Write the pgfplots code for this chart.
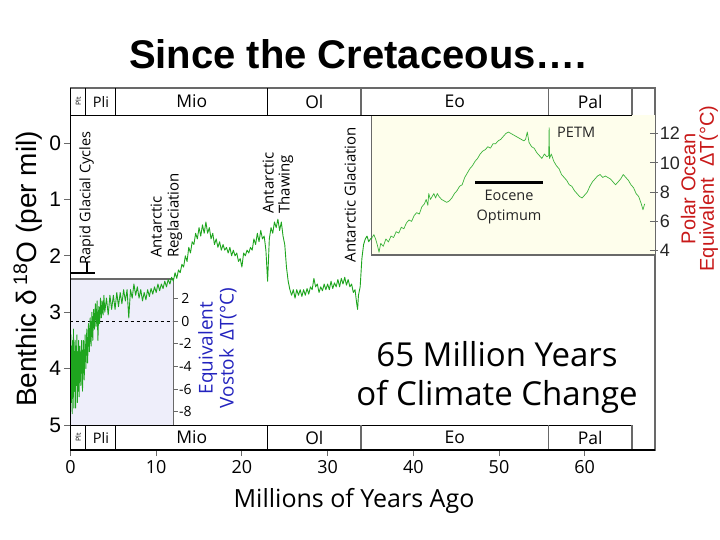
\documentclass[border=0pt]{standalone}
\usepackage{fontspec}
\setmainfont{Open Sans}
\newfontfamily\arial{Liberation Sans}
\usepackage{pgfplots}
\pgfplotsset{compat=1.18}
\usepackage{pgfplotstable}

\definecolor{mygreen}{RGB}{30,165,30}
\definecolor{mygreenL}{RGB}{60,180,60}
\definecolor{lav}{RGB}{238,238,250}
\definecolor{cream}{RGB}{254,254,236}
\definecolor{redlab}{RGB}{200,25,25}
\definecolor{bluelab}{RGB}{35,35,190}
\definecolor{framec}{RGB}{105,105,105}

% Benthic d18O (per mil), 0-35 Myr
\pgfplotstableread{
x d
0.0 4.2
0.05 3.4
0.1 4.6
0.15 3.6
0.2 4.8
0.25 3.5
0.3 4.5
0.35 3.3
0.4 4.7
0.45 3.7
0.5 4.4
0.55 3.5
0.6 4.7
0.65 3.6
0.7 4.3
0.75 3.4
0.8 4.6
0.85 3.7
0.9 4.4
0.95 3.5
1.0 4.5
1.1 3.6
1.2 4.3
1.3 3.5
1.4 4.4
1.5 3.5
1.6 4.2
1.7 3.4
1.8 4.0
1.9 3.3
2.0 3.9
2.1 3.2
2.2 3.7
2.3 3.1
2.4 3.6
2.5 3.0
2.6 3.5
2.7 2.95
2.8 3.3
2.9 2.85
3.0 3.25
3.1 2.8
3.2 3.5
3.3 2.9
3.4 3.2
3.5 2.75
3.6 3.1
3.7 2.8
3.8 3.05
3.9 2.7
4.0 3.0
4.2 2.75
4.4 3.05
4.6 2.7
4.8 2.95
5.0 2.7
5.2 2.95
5.4 2.65
5.6 2.9
5.8 2.65
6.0 2.85
6.2 2.6
6.4 2.8
6.6 2.6
6.8 3.1
7.0 2.6
7.2 2.75
7.4 2.5
7.6 2.7
7.8 2.55
8.0 2.75
8.2 2.6
8.4 2.8
8.6 2.65
8.8 2.78
9.0 2.6
9.2 2.72
9.4 2.58
9.6 2.68
9.8 2.55
10.0 2.65
10.2 2.5
10.4 2.62
10.6 2.5
10.8 2.58
11.0 2.45
11.2 2.55
11.4 2.42
11.6 2.5
11.8 2.38
12.0 2.45
12.2 2.3
12.4 2.4
12.6 2.25
12.8 2.3
13.0 2.15
13.2 2.2
13.4 2.0
13.6 2.1
13.8 1.85
14.0 1.95
14.2 1.75
14.4 1.8
14.6 1.6
14.8 1.7
15.0 1.5
15.2 1.65
15.4 1.45
15.6 1.6
15.8 1.4
16.0 1.6
16.2 1.5
16.4 1.7
16.6 1.6
16.8 1.8
17.0 1.7
17.2 1.85
17.4 1.75
17.6 1.9
17.8 1.8
18.0 1.9
18.2 1.85
18.4 1.95
18.6 1.85
18.8 2.0
19.0 1.9
19.2 2.0
19.4 1.95
19.6 2.1
19.8 2.05
20.0 2.2
20.2 1.95
20.4 2.0
20.6 1.9
20.8 1.95
21.0 1.85
21.2 1.9
21.4 1.7
21.6 1.8
21.8 1.6
22.0 1.75
22.2 1.55
22.4 1.7
22.6 1.65
22.8 1.9
23.0 2.45
23.2 1.7
23.4 1.5
23.6 1.6
23.8 1.4
24.0 1.5
24.2 1.35
24.4 1.55
24.6 1.4
24.8 1.65
25.0 1.8
25.2 2.2
25.4 2.45
25.6 2.6
25.8 2.7
26.0 2.6
26.2 2.75
26.4 2.6
26.6 2.7
26.8 2.6
27.0 2.72
27.2 2.6
27.4 2.7
27.6 2.58
27.8 2.68
28.0 2.55
28.2 2.6
28.4 2.4
28.6 2.55
28.8 2.5
29.0 2.65
29.2 2.55
29.4 2.62
29.6 2.5
29.8 2.6
30.0 2.5
30.2 2.6
30.4 2.45
30.6 2.58
30.8 2.48
31.0 2.55
31.2 2.42
31.4 2.55
31.6 2.4
31.8 2.5
32.0 2.38
32.2 2.52
32.4 2.42
32.6 2.55
32.8 2.5
33.0 2.65
33.2 2.6
33.4 2.85
33.5 2.95
33.6 2.7
33.8 2.55
34.0 2.05
34.2 1.8
34.4 1.7
34.6 1.65
34.8 1.75
35.0 1.7
35.2 1.68
}\maindata

% Polar ocean equivalent Delta T (deg C), 35-67 Myr
\pgfplotstableread{
x T
35.2 4.9
35.4 5.1
35.6 4.8
35.8 4.4
36.0 3.9
36.2 4.5
36.5 4.3
36.8 4.8
37.1 4.6
37.4 5.0
37.7 4.9
38.0 5.3
38.3 5.2
38.6 5.6
38.9 5.5
39.2 5.9
39.5 6.1
39.8 6.0
40.1 6.4
40.4 6.6
40.7 6.5
41.0 7.0
41.3 7.2
41.5 7.5
41.7 7.1
41.8 7.9
42.0 7.5
42.2 7.7
42.4 7.9
42.6 7.6
42.8 7.9
43.0 7.7
43.3 7.5
43.6 7.4
43.9 7.3
44.2 7.4
44.5 7.6
44.8 7.9
45.1 8.1
45.4 8.4
45.7 8.5
46.0 9.0
46.3 9.3
46.6 9.6
46.9 9.8
47.2 10.1
47.5 10.3
47.8 10.6
48.1 10.8
48.4 10.9
48.7 11.1
49.0 11.0
49.3 11.3
49.6 11.3
49.9 11.5
50.2 11.6
50.5 11.8
50.8 12.0
51.1 12.1
51.4 12.0
51.7 11.9
52.0 11.8
52.3 11.7
52.6 11.6
52.9 11.5
53.1 11.6
53.3 12.1
53.5 11.4
53.8 11.1
54.1 11.0
54.4 10.7
54.7 10.5
55.0 10.3
55.3 10.6
55.6 10.4
55.8 10.5
55.85 12.4
55.9 10.3
56.1 10.6
56.4 10.1
56.7 9.8
57.0 9.6
57.3 9.2
57.6 9.0
57.9 8.8
58.2 8.5
58.5 8.4
58.8 8.1
59.1 7.9
59.4 7.7
59.7 7.6
60.0 7.8
60.3 8.0
60.6 8.4
60.9 8.7
61.2 8.9
61.5 9.1
61.8 9.2
62.1 9.0
62.4 9.1
62.7 9.0
63.0 8.9
63.3 8.7
63.6 8.5
63.9 8.7
64.2 8.9
64.5 9.2
64.8 9.0
65.1 8.8
65.4 8.5
65.7 8.3
66.0 7.9
66.3 7.7
66.6 7.2
66.8 6.8
67.0 7.2
}\polardata

\begin{document}
\begin{tikzpicture}
\useasboundingbox (-70.5pt,-90pt) rectangle (649.5pt,450pt);
\begin{axis}[
  at={(0,0)}, anchor=south west,
  x=8.57pt, y=56.4pt, y dir=reverse,
  xmin=0, xmax=68.2, ymin=-0.975, ymax=5.443,
  clip=false,
  axis line style={draw=framec, line width=1.2pt},
  xtick={0,10,...,60}, ytick={0,1,...,5},
  tick pos=left,
  tick align=outside,
  major tick length=6pt,
  tick style={draw=framec, line width=1pt},
  /pgf/number format/assume math mode=true,
  xticklabel style={font=\fontsize{18}{18}\selectfont, yshift=-1pt},
  yticklabel style={font=\arial\fontsize{21}{21}\selectfont},
]
% inset boxes
\fill[lav] (axis cs:0,2.411) rectangle (axis cs:12,5.0);
\fill[cream] (axis cs:35.15,-0.496) rectangle (axis cs:68.2,1.986);
\draw[framec, line width=1.6pt] (axis cs:0,2.411) -- (axis cs:12,2.411) -- (axis cs:12,5.0);
\draw[framec, line width=1.2pt] (axis cs:35.15,-0.496) -- (axis cs:35.15,1.986) -- (axis cs:68.2,1.986);
\draw[black, dashed, line width=0.8pt] (axis cs:0,3.156) -- (axis cs:12,3.156);

% green curves
\addplot[mygreen, line width=0.9pt, line join=round] table[x=x, y=d] {\maindata};
\addplot[mygreenL, line width=0.7pt, line join=round] table[x=x, y expr={2.9486-0.25975*\thisrow{T}}] {\polardata};

% epoch bars
\draw[black, line width=1pt] (axis cs:0,-0.496) -- (axis cs:65.5,-0.496);
\draw[black, line width=1pt] (axis cs:0,5.0) -- (axis cs:65.5,5.0);
\draw[black, line width=1pt] (axis cs:1.8,-0.975) -- (axis cs:1.8,-0.496);
\draw[black, line width=1pt] (axis cs:5.3,-0.975) -- (axis cs:5.3,-0.496);
\draw[black, line width=1pt] (axis cs:23,-0.975) -- (axis cs:23,-0.496);
\draw[framec, line width=1.5pt] (axis cs:33.9,-0.975) -- (axis cs:33.9,-0.496);
\draw[framec, line width=1.5pt] (axis cs:55.8,-0.975) -- (axis cs:55.8,-0.496);
\draw[framec, line width=1.5pt] (axis cs:65.5,-0.975) -- (axis cs:65.5,-0.496);
\draw[black, line width=1pt] (axis cs:1.8,5.0) -- (axis cs:1.8,5.443);
\draw[black, line width=1pt] (axis cs:5.3,5.0) -- (axis cs:5.3,5.443);
\draw[black, line width=1pt] (axis cs:23,5.0) -- (axis cs:23,5.443);
\draw[framec, line width=1.5pt] (axis cs:33.9,5.0) -- (axis cs:33.9,5.443);
\draw[framec, line width=1.5pt] (axis cs:55.8,5.0) -- (axis cs:55.8,5.443);
\draw[framec, line width=1.5pt] (axis cs:65.5,5.0) -- (axis cs:65.5,5.443);
\draw[black, line width=1.3pt] (axis cs:0,5.443) -- (axis cs:68.2,5.443);
\draw[black, line width=1.3pt] (axis cs:0,-0.975) -- (axis cs:0,5.443);

\node[rotate=90, font=\fontsize{7}{7}\selectfont] at (axis cs:0.9,-0.736) {Plt};
\node[font=\fontsize{14.5}{14.5}\selectfont] at (axis cs:3.55,-0.736) {Pli};
\node[font=\fontsize{17.5}{17.5}\selectfont] at (axis cs:14.15,-0.736) {Mio};
\node[font=\fontsize{17.5}{17.5}\selectfont] at (axis cs:28.45,-0.736) {Ol};
\node[font=\fontsize{17.5}{17.5}\selectfont] at (axis cs:44.85,-0.736) {Eo};
\node[font=\fontsize{17.5}{17.5}\selectfont] at (axis cs:60.65,-0.736) {Pal};
\node[rotate=90, font=\fontsize{7}{7}\selectfont] at (axis cs:0.9,5.222) {Plt};
\node[font=\fontsize{14.5}{14.5}\selectfont] at (axis cs:3.55,5.222) {Pli};
\node[font=\fontsize{17.5}{17.5}\selectfont] at (axis cs:14.15,5.222) {Mio};
\node[font=\fontsize{17.5}{17.5}\selectfont] at (axis cs:28.45,5.222) {Ol};
\node[font=\fontsize{17.5}{17.5}\selectfont] at (axis cs:44.85,5.222) {Eo};
\node[font=\fontsize{17.5}{17.5}\selectfont] at (axis cs:60.65,5.222) {Pal};

% Vostok scale
\draw[framec, line width=1pt] (axis cs:12,2.7534) -- (axis cs:12.5,2.7534);
\draw[framec, line width=1pt] (axis cs:12,3.156) -- (axis cs:12.5,3.156);
\draw[framec, line width=1pt] (axis cs:12,3.5586) -- (axis cs:12.5,3.5586);
\draw[framec, line width=1pt] (axis cs:12,3.9612) -- (axis cs:12.5,3.9612);
\draw[framec, line width=1pt] (axis cs:12,4.3638) -- (axis cs:12.5,4.3638);
\draw[framec, line width=1pt] (axis cs:12,4.7664) -- (axis cs:12.5,4.7664);
\node[font=\fontsize{14}{14}\selectfont] at (axis cs:13.4,2.7534) {2};
\node[font=\fontsize{14}{14}\selectfont] at (axis cs:13.4,3.156) {0};
\node[font=\fontsize{14}{14}\selectfont] at (axis cs:13.4,3.5586) {-2};
\node[font=\fontsize{14}{14}\selectfont] at (axis cs:13.4,3.9612) {-4};
\node[font=\fontsize{14}{14}\selectfont] at (axis cs:13.4,4.3638) {-6};
\node[font=\fontsize{14}{14}\selectfont] at (axis cs:13.4,4.7664) {-8};
\node[rotate=90, align=center, text=bluelab, font=\fontsize{19}{21}\selectfont] at (axis cs:17.15,3.635) {Equivalent\\Vostok \,ΔT(°C)};

% Polar ocean scale
\draw[framec, line width=1pt] (axis cs:67.6,1.9096) -- (axis cs:68.5,1.9096);
\draw[framec, line width=1pt] (axis cs:67.6,1.3901) -- (axis cs:68.5,1.3901);
\draw[framec, line width=1pt] (axis cs:67.6,0.8706) -- (axis cs:68.5,0.8706);
\draw[framec, line width=1pt] (axis cs:67.6,0.3511) -- (axis cs:68.5,0.3511);
\draw[framec, line width=1pt] (axis cs:67.6,-0.1684) -- (axis cs:68.5,-0.1684);
\node[anchor=west, inner sep=0pt, text=black!85, font=\arial\fontsize{18}{18}\selectfont] at (axis cs:68.75,1.9096) {4};
\node[anchor=west, inner sep=0pt, text=black!85, font=\arial\fontsize{18}{18}\selectfont] at (axis cs:68.75,1.3901) {6};
\node[anchor=west, inner sep=0pt, text=black!85, font=\arial\fontsize{18}{18}\selectfont] at (axis cs:68.75,0.8706) {8};
\node[anchor=west, inner sep=0pt, text=black!85, font=\arial\fontsize{18}{18}\selectfont] at (axis cs:68.75,0.3511) {10};
\node[anchor=west, inner sep=0pt, text=black!85, font=\arial\fontsize{18}{18}\selectfont] at (axis cs:68.75,-0.1684) {12};
\node[rotate=90, align=center, inner sep=0pt, text=redlab, font=\arial\fontsize{20}{18.5}\selectfont] at (axis cs:73.4,0.807) {Polar Ocean\\Equivalent \ ΔT(°C)};

% annotations
\draw[black, line width=2pt] (axis cs:0,2.30) -- (axis cs:2.86,2.30);
\draw[black, line width=2pt] (axis cs:1.9,2.11) -- (axis cs:1.9,2.30);
\node[rotate=90, font=\fontsize{14.5}{14.5}\selectfont] at (axis cs:1.87,0.975) {Rapid Glacial Cycles};
\node[rotate=90, anchor=west, inner sep=0pt, align=left, font=\fontsize{15}{17}\selectfont] at (axis cs:11.2,2.039) {Antarctic\\Reglaciation};
\node[rotate=90, anchor=west, inner sep=0pt, align=left, font=\fontsize{15}{16}\selectfont] at (axis cs:24.21,1.259) {Antarctic\\Thawing};
\node[rotate=90, font=\fontsize{15}{15}\selectfont] at (axis cs:32.61,0.913) {Antarctic Glaciation};
\node[anchor=west, inner sep=0pt, text=black!85, font=\fontsize{14.5}{14.5}\selectfont] at (axis cs:56.77,-0.195) {PETM};
\draw[black, line width=3pt] (axis cs:47.2,0.697) -- (axis cs:55.1,0.697);
\node[align=center, text=black!85, font=\fontsize{14.5}{20}\selectfont] at (axis cs:51.17,1.135) {Eocene\\Optimum};
\node[align=center, font=\fontsize{33}{39}\selectfont] at (axis cs:49.77,4.158) {65 Million Years\\of Climate Change};

% titles and axis labels
\node[anchor=base, font=\arial\bfseries\fontsize{40}{40}\selectfont] at (axis cs:33.55,-1.33) {Since the Cretaceous….};
\node[rotate=90, font=\arial\fontsize{28}{28}\selectfont] at (axis cs:-5.0,2.234) {Benthic δ\,\textsuperscript{18}O (per mil)};
\node[anchor=base, font=\fontsize{25}{25}\selectfont] at (axis cs:33.08,6.454) {Millions of Years Ago};
\end{axis}
\end{tikzpicture}
\end{document}
